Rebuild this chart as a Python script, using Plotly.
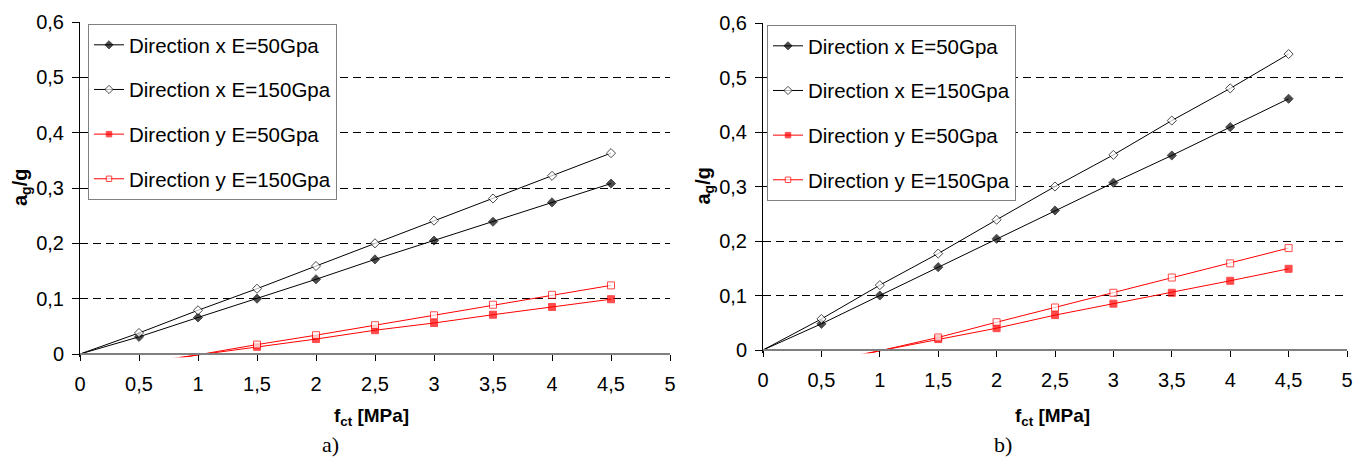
import plotly.graph_objects as go

# ---------------- data ----------------
x_black = [0, 0.5, 1, 1.5, 2, 2.5, 3, 3.5, 4, 4.5]
x_red = [0.5, 1, 1.5, 2, 2.5, 3, 3.5, 4, 4.5]

# panel a)
a_x50 = [0, 0.031, 0.066, 0.100, 0.135, 0.171, 0.205, 0.239, 0.274, 0.308]
a_x150 = [0, 0.038, 0.079, 0.118, 0.159, 0.200, 0.241, 0.281, 0.322, 0.363]
a_y50 = [-0.016, -0.002, 0.013, 0.027, 0.043, 0.056, 0.071, 0.085, 0.099]
a_y150 = [-0.020, -0.001, 0.017, 0.034, 0.052, 0.070, 0.089, 0.107, 0.124]

# panel b)
b_x50 = [0, 0.048, 0.100, 0.152, 0.204, 0.256, 0.307, 0.357, 0.409, 0.461]
b_x150 = [0, 0.057, 0.119, 0.177, 0.239, 0.300, 0.358, 0.421, 0.480, 0.543]
b_y50 = [-0.022, -0.001, 0.020, 0.040, 0.064, 0.085, 0.105, 0.127, 0.149]
b_y150 = [-0.026, -0.002, 0.023, 0.051, 0.078, 0.105, 0.133, 0.159, 0.187]

names = ["Direction x E=50Gpa", "Direction x E=150Gpa",
         "Direction y E=50Gpa", "Direction y E=150Gpa"]
x_ticks = [0, 0.5, 1, 1.5, 2, 2.5, 3, 3.5, 4, 4.5, 5]
y_ticks = [0, 0.1, 0.2, 0.3, 0.4, 0.5, 0.6]

# ---------------- layout helpers ----------------
W, H = 1365, 457
FONT = "Liberation Sans, Arial, sans-serif"


def px(x):
    return x / W


def py(y):
    return 1 - y / H


YMIN = -0.006

styles = [
    dict(symbol="diamond", color="black", line=dict(color="black", width=1), size=7, lc="black"),
    dict(symbol="diamond", color="white", line=dict(color="black", width=1), size=7, lc="black"),
    dict(symbol="square", color="#ff0000", line=dict(color="#ff0000", width=1), size=7, lc="#ff0000"),
    dict(symbol="square", color="white", line=dict(color="#ff0000", width=1), size=7, lc="#ff0000"),
]

fig = go.Figure()


def add_panel(series, xaxis, yaxis, legend):
    xs = [x_black, x_black, x_red, x_red]
    for i, (xv, yv) in enumerate(zip(xs, series)):
        st = styles[i]
        sizes = [st["size"] if v > 0 else 0 for v in yv]
        fig.add_trace(go.Scatter(
            x=xv, y=yv, name=names[i], mode="lines+markers",
            line=dict(color=st["lc"], width=1),
            marker=dict(symbol=st["symbol"], color=st["color"], size=sizes,
                        line=st["line"]),
            xaxis=xaxis, yaxis=yaxis, legend=legend, legendgroup=legend + str(i),
            cliponaxis=True,
        ))


add_panel([a_x50, a_x150, a_y50, a_y150], "x", "y", "legend")
add_panel([b_x50, b_x150, b_y50, b_y150], "x2", "y2", "legend2")

panels = [
    # left, right, top(0.6), zero pixel
    dict(l=80, r=670, t=22, z=354),
    dict(l=763, r=1347, t=23, z=350),
]


def axes(p):
    ppu = (p["z"] - p["t"]) / 0.6
    bottom = p["z"] - YMIN * ppu
    xa = dict(domain=[px(p["l"]), px(p["r"])], range=[0, 5], tickvals=x_ticks,
              ticks="outside", ticklen=6, tickcolor="black", tickwidth=1,
              showline=True, linecolor="#808080", linewidth=2,
              showgrid=False, zeroline=False, anchor="free", position=py(p["z"]),
              automargin=False, ticklabelstandoff=6,
              tickfont=dict(family=FONT, size=20, color="black"), fixedrange=True)
    ya = dict(domain=[py(bottom), py(p["t"])], range=[YMIN, 0.6], tickvals=y_ticks,
              ticks="outside", ticklen=7, tickcolor="black", tickwidth=1,
              showline=True, linecolor="black", linewidth=1,
              showgrid=True, gridcolor="black", gridwidth=1, griddash="8px,5px",
              zeroline=False, automargin=False, ticklabelstandoff=4,
              tickfont=dict(family=FONT, size=20, color="black"), fixedrange=True)
    return xa, ya


xa1, ya1 = axes(panels[0])
xa2, ya2 = axes(panels[1])
ya1["anchor"] = "x"
ya2["anchor"] = "x2"

leg_common = dict(bgcolor="white", bordercolor="#808080", borderwidth=1,
                  font=dict(family=FONT, size=20.5, color="black"),
                  xanchor="left", yanchor="top", traceorder="grouped",
                  tracegroupgap=15, itemwidth=30)

annotations = []
for p, lab in zip(panels, ["a)", "b)"]):
    cx = (p["l"] + p["r"]) / 2
    annotations.append(dict(text="<b>a<sub>g</sub>/g</b>", x=px(p["l"] - 59), y=py((p["t"] + p["z"]) / 2),
                            xref="paper", yref="paper", showarrow=False, textangle=-90,
                            xanchor="center", yanchor="middle",
                            font=dict(family=FONT, size=20, color="black")))
    annotations.append(dict(text="<b>f<sub>ct</sub> [MPa]</b>", x=px(cx - 3), y=py(417),
                            xref="paper", yref="paper", showarrow=False,
                            xanchor="center", yanchor="middle",
                            font=dict(family=FONT, size=19, color="black")))
annotations.append(dict(text="a)", x=px(330), y=py(444), xref="paper", yref="paper",
                        showarrow=False, xanchor="center", yanchor="middle",
                        font=dict(family="Liberation Serif, Times New Roman, serif", size=22, color="black")))
annotations.append(dict(text="b)", x=px(1003), y=py(444), xref="paper", yref="paper",
                        showarrow=False, xanchor="center", yanchor="middle",
                        font=dict(family="Liberation Serif, Times New Roman, serif", size=22, color="black")))

fig.update_layout(
    width=W, height=H, autosize=False,
    margin=dict(l=0, r=0, t=0, b=0, autoexpand=False),
    paper_bgcolor="white", plot_bgcolor="white",
    separators=", ",
    showlegend=True,
    xaxis=xa1, yaxis=ya1, xaxis2=xa2, yaxis2=ya2,
    legend=dict(x=px(88), y=py(24), **leg_common),
    legend2=dict(x=px(767), y=py(25), **leg_common),
    annotations=annotations,
)

fig.write_html("out.html", config={"displayModeBar": False},
               post_script="document.body.style.margin='0px';document.body.style.overflow='hidden';")
